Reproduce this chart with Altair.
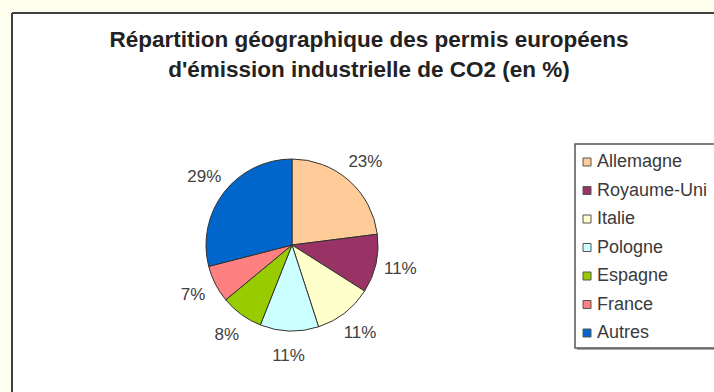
import altair as alt
import pandas as pd

COUNTRIES = ["Allemagne", "Royaume-Uni", "Italie", "Pologne", "Espagne", "France", "Autres"]
SHARES = [23, 11, 11, 11, 8, 7, 29]
LABELS = ["23%", "11%", "11%", "11%", "8%", "7%", "29%"]
COLORS = ["#FFCC99", "#993366", "#FFFFCC", "#CCFFFF", "#99CC00", "#FF8080", "#0066CC"]
TITLE_LINES = ["Répartition géographique des permis européens",
               "d'émission industrielle de CO2 (en %)"]

df = pd.DataFrame({"pays": COUNTRIES, "part": SHARES, "label": LABELS,
                   "ordre": list(range(len(COUNTRIES)))})
one = pd.DataFrame({"k": [0]})

FONT = "Liberation Sans"
color = alt.Color("pays:N", scale=alt.Scale(domain=COUNTRIES, range=COLORS), legend=None)
CX, CY = 280, 232

base = alt.Chart(df)

pie = base.mark_arc(radius=86, stroke="#333333", strokeWidth=1).encode(
    theta=alt.Theta("part:Q", stack=True),
    order=alt.Order("ordre:Q"),
    color=color,
    x=alt.value(CX), y=alt.value(CY),
)

labels = base.mark_text(radius=111, font=FONT, fontSize=17, fill="#404040").encode(
    theta=alt.Theta("part:Q", stack=True),
    order=alt.Order("ordre:Q"),
    text="label:N",
    x=alt.value(CX), y=alt.value(CY),
)

frame_top = alt.Chart(one).mark_rule(color="#404040", strokeWidth=2).encode(
    x=alt.value(0), x2=alt.value(702), y=alt.value(0))
frame_left = alt.Chart(one).mark_rule(color="#404040", strokeWidth=2).encode(
    x=alt.value(0), y=alt.value(0), y2=alt.value(379))

title = alt.Chart(one).mark_text(
    text=TITLE_LINES, font=FONT, fontSize=22.5, fontWeight="bold", color="#222222",
    baseline="top", align="center", lineHeight=30,
).encode(x=alt.value(357), y=alt.value(16))

leg_shadow = alt.Chart(one).mark_rect(fill="#aaaaaa").encode(
    x=alt.value(565), x2=alt.value(722), y=alt.value(133), y2=alt.value(337))
leg_box = alt.Chart(one).mark_rect(fill="white", stroke="#555555", strokeWidth=1.5).encode(
    x=alt.value(563), x2=alt.value(720), y=alt.value(131), y2=alt.value(335))

leg_y = alt.Y("pays:N", sort=COUNTRIES, axis=None,
              scale=alt.Scale(domain=COUNTRIES, range=[149, 320], padding=0))

leg_sym = base.mark_square(size=64, stroke="#555555", strokeWidth=1, opacity=1).encode(
    x=alt.value(575), y=leg_y, color=color)
leg_txt = base.mark_text(align="left", baseline="middle", font=FONT, fontSize=18,
                         color="#3a3a3a").encode(
    x=alt.value(585), y=leg_y, text="pays:N")

chart = alt.layer(
    frame_top, frame_left, title, pie, labels, leg_shadow, leg_box, leg_sym, leg_txt
).properties(
    width=702, height=379,
    padding={"left": 12, "top": 13, "right": 0, "bottom": 0},
    autosize=alt.AutoSizeParams(type="none"),
    background="#FFFFF0",
).configure_view(fill="white", stroke=None)

chart.save("out.html", embed_options={"renderer": "svg", "actions": False})
